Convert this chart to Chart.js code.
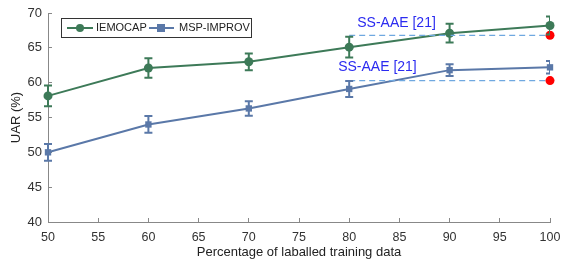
<!DOCTYPE html>
<html lang="en">
<head>
    <meta charset="UTF-8">
    <title>UAR vs labelled training data</title>
    <style>
        html, body { margin: 0; padding: 0; background: #fff; }
        .wrap { width: 561px; height: 260px; position: relative; }
    </style>
</head>
<body>
    <div class="wrap">
        <canvas id="uar-chart" width="561" height="260"></canvas>
    </div>

    <script src="https://cdn.jsdelivr.net/npm/chart.js"></script>
    <script>
        // data
        const percentages = [50, 60, 70, 80, 90, 100];
        const iemocapUar = [58.1, 62.1, 63.0, 65.1, 67.1, 68.2];
        const iemocapErr = [1.5, 1.4, 1.2, 1.5, 1.35, 1.3];
        const mspUar = [50.0, 54.0, 56.3, 59.1, 61.8, 62.2];
        const mspErr = [1.2, 1.2, 1.05, 1.15, 0.85, 0.9];
        const ssaaeX = [80, 100];
        const ssaaeIemocap = 66.8;
        const ssaaeMsp = 60.3;
        const xTicks = [50, 55, 60, 65, 70, 75, 80, 85, 90, 95, 100];
        const yTicks = [40, 45, 50, 55, 60, 65, 70];

        const green = '#3d7a58';
        const blue = '#5a78a8';
        const dashBlue = '#6fa8e0';
        const fontFamily = '"Liberation Sans", Arial, Helvetica, sans-serif';

        // error bars drawn through the scales
        const errorBars = {
            id: 'errorBars',
            afterDatasetsDraw(chart) {
                const ctx = chart.ctx;
                const xs = chart.scales.x, ys = chart.scales.y;
                const area = chart.chartArea;
                const sets = [[iemocapUar, iemocapErr, green], [mspUar, mspErr, blue]];
                ctx.save();
                ctx.beginPath();
                ctx.rect(area.left - 6, 0, area.right - area.left + 6, chart.height);
                ctx.clip();
                sets.forEach(([vals, errs, col]) => {
                    ctx.strokeStyle = col;
                    ctx.lineWidth = 2;
                    vals.forEach((v, i) => {
                        const x = xs.getPixelForValue(percentages[i]);
                        const yt = ys.getPixelForValue(v + errs[i]);
                        const yb = ys.getPixelForValue(v - errs[i]);
                        ctx.beginPath();
                        ctx.moveTo(x, yt); ctx.lineTo(x, yb);
                        ctx.moveTo(x - 4, yt); ctx.lineTo(x + 4, yt);
                        ctx.moveTo(x - 4, yb); ctx.lineTo(x + 4, yb);
                        ctx.stroke();
                    });
                });
                ctx.restore();
            }
        };

        // legend box and SS-AAE labels
        const annotations = {
            id: 'annotations',
            afterDraw(chart) {
                const ctx = chart.ctx;
                const xs = chart.scales.x, ys = chart.scales.y;
                ctx.save();
                ctx.font = '14px ' + fontFamily;
                ctx.fillStyle = '#2b2bf0';
                ctx.textBaseline = 'middle';
                ctx.textAlign = 'left';
                ctx.fillText('SS-AAE [21]', xs.getPixelForValue(80.8), ys.getPixelForValue(68.6));
                ctx.fillText('SS-AAE [21]', xs.getPixelForValue(78.9), ys.getPixelForValue(62.3));

                // legend
                const lx = 61, ly = 18, lw = 190, lh = 19;
                ctx.fillStyle = '#fff';
                ctx.fillRect(lx, ly, lw, lh);
                ctx.strokeStyle = '#333';
                ctx.lineWidth = 1;
                ctx.strokeRect(lx + 0.5, ly + 0.5, lw, lh);
                const cy = ly + lh / 2 + 0.5;
                ctx.lineWidth = 2;
                ctx.strokeStyle = green;
                ctx.beginPath(); ctx.moveTo(67, cy); ctx.lineTo(93, cy); ctx.stroke();
                ctx.fillStyle = green;
                ctx.beginPath(); ctx.arc(80, cy, 4, 0, Math.PI * 2); ctx.fill();
                ctx.strokeStyle = blue;
                ctx.beginPath(); ctx.moveTo(149, cy); ctx.lineTo(174, cy); ctx.stroke();
                ctx.fillStyle = blue;
                ctx.fillRect(157, cy - 4, 8, 8);
                ctx.fillStyle = '#222';
                ctx.font = '11px ' + fontFamily;
                ctx.fillText('IEMOCAP', 96, cy);
                ctx.fillText('MSP-IMPROV', 179, cy);
                ctx.restore();
            }
        };

        const ctx = document.getElementById('uar-chart').getContext('2d');
        new Chart(ctx, {
            type: 'line',
            data: {
                datasets: [
                    {
                        label: 'IEMOCAP',
                        data: percentages.map((p, i) => ({ x: p, y: iemocapUar[i] })),
                        borderColor: green,
                        backgroundColor: green,
                        borderWidth: 2,
                        pointStyle: 'circle',
                        pointRadius: 4.5,
                        pointBorderWidth: 0,
                        clip: false,
                        order: 3
                    },
                    {
                        label: 'MSP-IMPROV',
                        data: percentages.map((p, i) => ({ x: p, y: mspUar[i] })),
                        borderColor: blue,
                        backgroundColor: blue,
                        borderWidth: 2,
                        pointStyle: 'rect',
                        pointRadius: 4.5,
                        pointBorderWidth: 0,
                        clip: false,
                        order: 3
                    },
                    {
                        label: 'SS-AAE IEMOCAP',
                        data: ssaaeX.map(x => ({ x: x, y: ssaaeIemocap })),
                        borderColor: dashBlue,
                        borderWidth: 1.2,
                        borderDash: [6, 4],
                        pointRadius: 0,
                        order: 2
                    },
                    {
                        label: 'SS-AAE MSP',
                        data: ssaaeX.map(x => ({ x: x, y: ssaaeMsp })),
                        borderColor: dashBlue,
                        borderWidth: 1.2,
                        borderDash: [6, 4],
                        pointRadius: 0,
                        order: 2
                    },
                    {
                        label: 'SS-AAE points',
                        data: [{ x: 100, y: ssaaeIemocap }, { x: 100, y: ssaaeMsp }],
                        showLine: false,
                        backgroundColor: '#ff0000',
                        borderColor: '#ff0000',
                        pointRadius: 4.5,
                        pointBorderWidth: 0,
                        clip: false,
                        order: 1
                    }
                ]
            },
            options: {
                responsive: false,
                animation: false,
                layout: { padding: { top: 13, right: 11, left: 0, bottom: 0 } },
                plugins: {
                    legend: { display: false },
                    tooltip: { enabled: false }
                },
                scales: {
                    x: {
                        type: 'linear',
                        min: 50,
                        max: 100,
                        afterBuildTicks: (s) => { s.ticks = xTicks.map(v => ({ value: v })); },
                        afterFit: (s) => { s.height = 38; s.paddingLeft = 0; s.paddingRight = 0; },
                        grid: { drawOnChartArea: false, drawTicks: true, tickLength: -4, color: '#888', lineWidth: 1 },
                        border: { color: '#888', width: 1 },
                        ticks: { color: '#333', padding: 12, font: { family: fontFamily, size: 12.5 }, maxRotation: 0 },
                        title: {
                            display: true,
                            text: 'Percentage of laballed training data',
                            color: '#222',
                            font: { family: fontFamily, size: 13 },
                            padding: { top: 0, bottom: 0 }
                        }
                    },
                    y: {
                        min: 40,
                        max: 70,
                        afterBuildTicks: (s) => { s.ticks = yTicks.map(v => ({ value: v })); },
                        afterFit: (s) => { s.width = 48; s.paddingTop = 0; s.paddingBottom = 0; },
                        grid: { drawOnChartArea: false, drawTicks: true, tickLength: -4, color: '#888', lineWidth: 1 },
                        border: { color: '#888', width: 1 },
                        ticks: { color: '#333', padding: 10, font: { family: fontFamily, size: 13 } },
                        title: {
                            display: true,
                            text: 'UAR (%)',
                            color: '#222',
                            font: { family: fontFamily, size: 13 },
                            padding: { top: 9, bottom: 0 }
                        }
                    }
                }
            },
            plugins: [errorBars, annotations]
        });
    </script>
</body>
</html>
